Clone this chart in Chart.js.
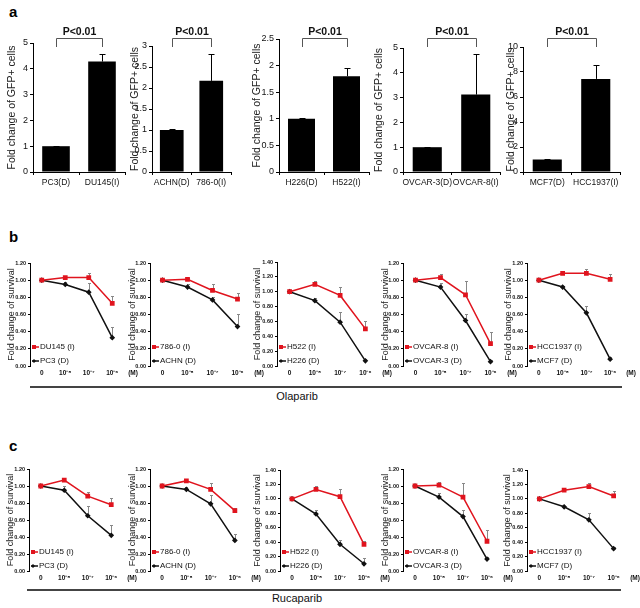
<!DOCTYPE html>
<html>
<head>
<meta charset="utf-8">
<script src="https://cdn.jsdelivr.net/npm/chart.js@4.4.0/dist/chart.umd.min.js"></script>
<style>
  body { margin: 0; background: #fff; width: 640px; height: 608px; position: relative; overflow: hidden;
         font-family: "Liberation Sans", Arial, sans-serif; }
  canvas { position: absolute; }
  .panel { position: absolute; font-weight: bold; font-size: 15px; line-height: 15px; }
  .rule { position: absolute; height: 2px; background: #444; }
  .drug { position: absolute; font-size: 11px; transform: translate(-50%, -50%); color: #111; }
</style>
</head>
<body>
<div class="panel" style="left:9px;top:4px">a</div>
<div class="panel" style="left:9px;top:229px">b</div>
<div class="panel" style="left:9px;top:438px">c</div>
<div class="rule" style="left:30px;top:386px;width:592px"></div>
<div class="drug" style="left:297px;top:396px">Olaparib</div>
<div class="rule" style="left:27px;top:589px;width:594px"></div>
<div class="drug" style="left:297px;top:598px">Rucaparib</div>
<script>
// ---- a: fold change of GFP+ cells ----
const gfpCategories = [['PC3(D)', 'DU145(I)'], ['ACHN(D)', '786-0(I)'], ['H226(D)', 'H522(I)'],
                       ['OVCAR-3(D)', 'OVCAR-8(I)'], ['MCF7(D)', 'HCC1937(I)']];
const gfpMeans  = [[1.0, 4.28], [1.0, 2.17], [1.0, 1.8], [1.0, 3.12], [1.0, 7.45]];
const gfpErrors = [[0.02, 0.3], [0.02, 0.63], [0.02, 0.15], [0.02, 1.63], [0.05, 1.15]];
const gfpAxisMax  = [5, 3, 2.5, 5, 10];
const gfpAxisStep = [0.5, 0.5, 0.5, 0.5, 1];

// ---- b / c: fold change of survival ----
const doseLabels = ['0', '10⁻⁸', '10⁻⁷', '10⁻⁶'];
const resistantNames = ['DU145 (I)', '786-0 (I)', 'H522 (I)', 'OVCAR-8 (I)', 'HCC1937 (I)'];
const sensitiveNames = ['PC3 (D)', 'ACHN (D)', 'H226 (D)', 'OVCAR-3 (D)', 'MCF7 (D)'];

const olaparibResistant    = [[1.00, 1.03, 1.03, 0.73], [1.00, 1.01, 0.88, 0.78], [1.00, 1.10, 0.95, 0.50],
                              [1.00, 1.03, 0.83, 0.26], [1.00, 1.08, 1.08, 1.01]];
const olaparibResistantErr = [[0.01, 0.02, 0.05, 0.08], [0.01, 0.02, 0.08, 0.07], [0.01, 0.05, 0.11, 0.11],
                              [0.01, 0.04, 0.16, 0.14], [0.01, 0.01, 0.05, 0.06]];
const olaparibSensitive    = [[1.00, 0.95, 0.86, 0.33], [1.00, 0.92, 0.77, 0.46], [1.00, 0.88, 0.59, 0.07],
                              [1.00, 0.92, 0.53, 0.05], [1.00, 0.92, 0.62, 0.08]];
const olaparibSensitiveErr = [[0.01, 0.03, 0.11, 0.12], [0.01, 0.04, 0.03, 0.15], [0.01, 0.04, 0.14, 0.02],
                              [0.01, 0.05, 0.07, 0.02], [0.01, 0.01, 0.08, 0.02]];

const rucaparibResistant    = [[1.00, 1.07, 0.88, 0.78], [1.00, 1.06, 0.96, 0.71], [1.00, 1.13, 1.03, 0.37],
                               [1.00, 1.01, 0.87, 0.35], [1.00, 1.12, 1.17, 1.04]];
const rucaparibResistantErr = [[0.01, 0.02, 0.05, 0.08], [0.01, 0.02, 0.07, 0.03], [0.01, 0.05, 0.10, 0.05],
                               [0.01, 0.04, 0.16, 0.13], [0.01, 0.02, 0.05, 0.07]];
const rucaparibSensitive    = [[1.00, 0.95, 0.65, 0.42], [1.00, 0.96, 0.79, 0.36], [1.00, 0.79, 0.37, 0.10],
                               [1.00, 0.87, 0.64, 0.14], [1.00, 0.89, 0.71, 0.31]];
const rucaparibSensitiveErr = [[0.01, 0.05, 0.11, 0.12], [0.01, 0.03, 0.11, 0.07], [0.01, 0.05, 0.06, 0.08],
                               [0.01, 0.05, 0.08, 0.02], [0.01, 0.01, 0.09, 0.02]];

const olaparibAxisMax  = [1.2, 1.2, 1.4, 1.2, 1.2];
const rucaparibAxisMax = [1.2, 1.2, 1.4, 1.2, 1.4];

// page layout (px) for each small panel
const barBoxes = [
  { title: 13,  axis: 33,  right: 125, top: 43 },
  { title: 136, axis: 152, right: 231, top: 46 },
  { title: 258, axis: 279, right: 369, top: 39 },
  { title: 380, axis: 403, right: 500, top: 48 },
  { title: 512, axis: 523, right: 620, top: 47 },
];
const olaparibBoxes = [
  { title: 11,  axis: 30,  width: 94,  top: 263, bottom: 366 },
  { title: 132, axis: 150, width: 100, top: 263, bottom: 366 },
  { title: 257, axis: 277, width: 101, top: 262, bottom: 366 },
  { title: 385, axis: 403, width: 100, top: 263, bottom: 366 },
  { title: 508, axis: 527, width: 95,  top: 263, bottom: 366 },
];
const rucaparibBoxes = [
  { title: 10,  axis: 29,  width: 94,  top: 469, bottom: 571 },
  { title: 132, axis: 150, width: 97,  top: 469, bottom: 571 },
  { title: 257, axis: 280, width: 96,  top: 470, bottom: 571 },
  { title: 385, axis: 403, width: 96,  top: 469, bottom: 571 },
  { title: 507, axis: 527, width: 99,  top: 470, bottom: 571 },
];

const FONT = '"Liberation Sans", Arial, sans-serif';

// upper-only error bars
const errorBars = {
  id: 'errorBars',
  beforeDatasetsDraw(chart, args, opts) {
    const ctx = chart.ctx, y = chart.scales.y;
    chart.data.datasets.forEach((ds, i) => {
      if (!ds.errors) return;
      ctx.save();
      ctx.strokeStyle = opts.color || '#000';
      ctx.lineWidth = 1;
      chart.getDatasetMeta(i).data.forEach((el, j) => {
        const top = Math.round(y.getPixelForValue(ds.data[j] + ds.errors[j])) + 0.5;
        const x = Math.round(el.x) + 0.5;
        ctx.beginPath();
        ctx.moveTo(x, el.y);
        ctx.lineTo(x, top);
        ctx.moveTo(x - opts.cap, top);
        ctx.lineTo(x + opts.cap, top);
        ctx.stroke();
      });
      ctx.restore();
    });
  }
};

// significance bracket above the two bars
const bracket = {
  id: 'bracket',
  afterDraw(chart, args, opts) {
    const ctx = chart.ctx, x = chart.scales.x;
    const x0 = Math.round(x.getPixelForValue(0)) + 0.5, x1 = Math.round(x.getPixelForValue(1)) + 0.5;
    ctx.save();
    ctx.strokeStyle = '#555';
    ctx.lineWidth = 1;
    ctx.beginPath();
    ctx.moveTo(x0, opts.low); ctx.lineTo(x0, opts.line + 0.5);
    ctx.lineTo(x1, opts.line + 0.5); ctx.lineTo(x1, opts.low);
    ctx.stroke();
    ctx.fillStyle = '#111';
    ctx.font = 'bold 10.5px ' + FONT;
    ctx.textAlign = 'center';
    ctx.textBaseline = 'middle';
    ctx.fillText('P<0.01', (x0 + x1) / 2, opts.text);
    ctx.restore();
  }
};

// legend inside the plot + "(M)" unit label
const innerLegend = {
  id: 'innerLegend',
  afterDraw(chart) {
    const ctx = chart.ctx, area = chart.chartArea;
    const sets = chart.data.datasets;
    ctx.save();
    sets.forEach((ds, i) => {
      const y = area.bottom - 19 + i * 14;
      const x0 = area.left + 2;
      ctx.strokeStyle = ds.borderColor;
      ctx.lineWidth = 1.5;
      ctx.beginPath();
      ctx.moveTo(x0, y); ctx.lineTo(x0 + 7, y);
      ctx.stroke();
      ctx.fillStyle = ds.borderColor;
      if (ds.pointStyle === 'rect') {
        ctx.fillRect(x0, y - 2, 4, 4);
      } else {
        ctx.beginPath();
        ctx.moveTo(x0 + 2, y - 2); ctx.lineTo(x0 + 4, y); ctx.lineTo(x0 + 2, y + 2); ctx.lineTo(x0, y);
        ctx.fill();
      }
      ctx.fillStyle = '#111';
      ctx.font = '8px ' + FONT;
      ctx.textAlign = 'left';
      ctx.textBaseline = 'middle';
      ctx.fillText(ds.label, x0 + 8, y);
    });
    ctx.font = 'bold 6.5px ' + FONT;
    ctx.textAlign = 'center';
    ctx.textBaseline = 'middle';
    ctx.fillStyle = '#111';
    ctx.fillText('(M)', area.right + 9, area.bottom + 7);
    ctx.restore();
  }
};

function place(left, top, width, height) {
  const c = document.createElement('canvas');
  c.width = width; c.height = height;
  c.style.left = left + 'px'; c.style.top = top + 'px';
  c.style.width = width + 'px'; c.style.height = height + 'px';
  document.body.appendChild(c);
  return c;
}

function barChart(i) {
  const b = barBoxes[i];
  const left = Math.round(b.title - 6.6), top = 20;
  const canvas = place(left, top, b.right + 4 - left, 172 + 22 - top);
  return new Chart(canvas, {
    type: 'bar',
    data: {
      labels: gfpCategories[i],
      datasets: [{
        data: gfpMeans[i],
        errors: gfpErrors[i],
        backgroundColor: '#000',
        barPercentage: 0.6,
        categoryPercentage: 1
      }]
    },
    options: {
      responsive: false,
      animation: false,
      layout: { padding: { top: b.top - top, right: 4, left: 0, bottom: 0 } },
      plugins: {
        legend: { display: false },
        tooltip: { enabled: false },
        errorBars: { color: '#000', cap: 3 },
        bracket: { line: 38 - top, low: 47 - top, text: 32 - top }
      },
      scales: {
        x: {
          grid: { offset: true, drawOnChartArea: false, tickLength: 3, color: '#000' },
          border: { color: '#000' },
          ticks: { color: '#111', font: { size: 8.5, family: FONT }, padding: 3, maxRotation: 0, autoSkip: false },
          afterFit: s => { s.height = 22; }
        },
        y: {
          min: 0, max: gfpAxisMax[i],
          grid: { drawOnChartArea: false, tickLength: 3, color: '#000' },
          border: { color: '#000' },
          ticks: { stepSize: gfpAxisStep[i], color: '#111', font: { size: 9, family: FONT }, padding: 2,
                   callback: v => String(Math.round(v * 10) / 10) },
          title: { display: true, text: 'Fold change of GFP+ cells', color: '#222',
                   font: { size: 10.5, family: FONT }, padding: 0 },
          afterFit: s => { s.width = b.axis - left; }
        }
      }
    },
    plugins: [errorBars, bracket]
  });
}

function survivalChart(b, axisMax, resistant, resistantErr, sensitive, sensitiveErr, i) {
  const left = Math.round(b.title - 5.4), top = b.top - 8;
  const canvas = place(left, top, b.axis + b.width + 18 - left, b.bottom + 16 - top);
  return new Chart(canvas, {
    type: 'line',
    data: {
      labels: doseLabels,
      datasets: [
        { label: resistantNames[i], data: resistant, errors: resistantErr,
          borderColor: '#e0141e', backgroundColor: '#e0141e', borderWidth: 1.5,
          pointStyle: 'rect', pointRadius: 2.3, tension: 0 },
        { label: sensitiveNames[i], data: sensitive, errors: sensitiveErr,
          borderColor: '#111', backgroundColor: '#111', borderWidth: 1.5,
          pointStyle: 'rectRot', pointRadius: 1.8, tension: 0 }
      ]
    },
    options: {
      responsive: false,
      animation: false,
      layout: { padding: { top: 8, right: 18, left: 0, bottom: 0 } },
      plugins: {
        legend: { display: false },
        tooltip: { enabled: false },
        errorBars: { color: '#888', cap: 1.5 }
      },
      scales: {
        x: {
          offset: true,
          grid: { display: false, drawTicks: false },
          border: { display: false },
          ticks: { color: '#111', font: { size: 6.5, weight: 'bold', family: FONT }, padding: 3, maxRotation: 0,
                   autoSkip: false },
          afterFit: s => { s.height = 16; }
        },
        y: {
          min: 0, max: axisMax,
          grid: { drawOnChartArea: false, tickLength: 2, color: '#000' },
          border: { color: '#000' },
          ticks: { stepSize: 0.2, color: '#111', font: { size: 5.5, weight: 'bold', family: FONT }, padding: 2,
                   callback: v => v.toFixed(2) },
          title: { display: true, text: 'Fold change of survival', color: '#222',
                   font: { size: 9, family: FONT }, padding: 0 },
          afterFit: s => { s.width = b.axis - left; }
        }
      }
    },
    plugins: [errorBars, innerLegend]
  });
}

for (let i = 0; i < 5; i++) {
  barChart(i);
  survivalChart(olaparibBoxes[i], olaparibAxisMax[i], olaparibResistant[i], olaparibResistantErr[i],
                olaparibSensitive[i], olaparibSensitiveErr[i], i);
  survivalChart(rucaparibBoxes[i], rucaparibAxisMax[i], rucaparibResistant[i], rucaparibResistantErr[i],
                rucaparibSensitive[i], rucaparibSensitiveErr[i], i);
}
</script>
</body>
</html>
